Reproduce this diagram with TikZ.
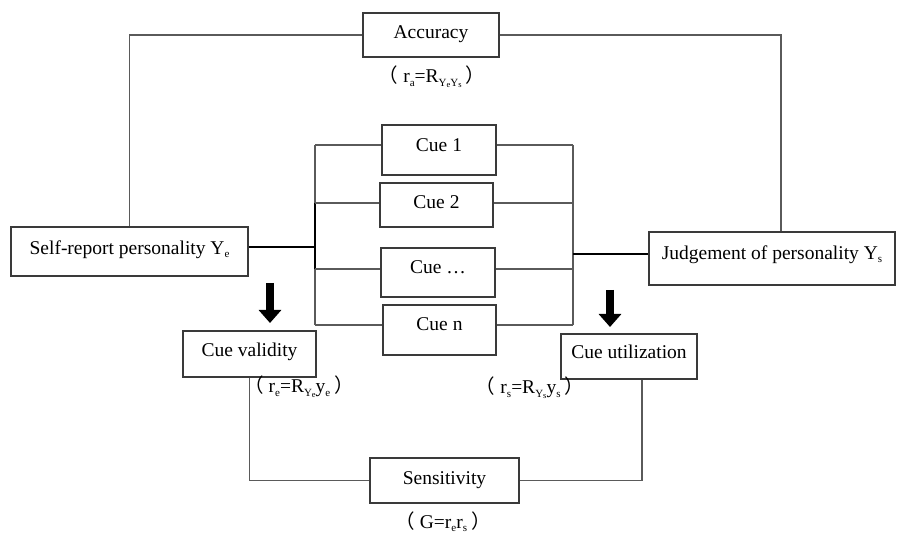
\documentclass[tikz,border=0pt]{standalone}
\usepackage{fontspec}
\setmainfont{Liberation Serif}
\newfontfamily\cjk{Noto Sans CJK SC}
\usetikzlibrary{arrows.meta}
\newcommand\lo[1]{\raisebox{-0.35ex}{\fontsize{11}{11}\selectfont #1}}
\newcommand\llo[1]{\raisebox{-0.3ex}{\fontsize{8.5}{8.5}\selectfont #1}}
\newcommand\lpar{{\cjk （}\hspace{5pt}}
\newcommand\rpar{\hspace{4pt}{\cjk ）}}
\definecolor{boxc}{HTML}{3A3A3A}
\definecolor{linec}{HTML}{5A5A5A}
\begin{document}
\begin{tikzpicture}[x=1pt,y=-1pt,
  box/.style={draw=boxc, line width=1.2pt, fill=white, text height=14pt, text depth=7pt, inner sep=0pt, font=\fontsize{19.5}{23}\selectfont},
  conn/.style={draw=linec, line width=1.1pt},
  thickconn/.style={draw=black, line width=1.8pt},
  lab/.style={inner sep=0pt, font=\fontsize{19.5}{23}\selectfont},
  bigarrow/.style={line width=7.5pt, -{Triangle[width=22pt,length=13pt]}}]
\fill[white] (0,0) rectangle (899,534);
\useasboundingbox (0,0) rectangle (899,534);

% boxes
\node[box, minimum width=136pt, minimum height=44pt] (acc) at (431,35) {Accuracy};
\node[box, minimum width=237pt, minimum height=49pt, text depth=8pt] (self) at (129.5,251.5) {Self-report personality Y\lo{e}};
\node[box, minimum width=246pt, minimum height=53pt, text depth=12pt] (judge) at (772,258.5) {Judgement of personality Y\lo{s}};
\node[box, minimum width=114pt, minimum height=50pt, text depth=11pt] (cue1) at (439,150) {Cue 1};
\node[box, minimum width=113pt, minimum height=44pt] (cue2) at (436.5,205) {Cue 2};
\node[box, minimum width=114pt, minimum height=49pt, text depth=11pt] (cue3) at (438,272.5) {Cue \dots};
\node[box, minimum width=113pt, minimum height=50pt, text depth=13pt] (cue4) at (439.5,330) {Cue n};
\node[box, minimum width=133pt, minimum height=46pt, text depth=10pt] (cuev) at (249.5,354) {Cue validity};
\node[box, minimum width=136pt, minimum height=45pt, text depth=9pt] (cueu) at (629,356.5) {Cue utilization};
\node[box, minimum width=149pt, minimum height=45pt] (sens) at (444.5,480.5) {Sensitivity};

% labels
\node[lab] (la) at (432,77) {\lpar r\lo{a}=R\lo{Y\llo{e}Y\llo{s}}\rpar};
\node[lab] (le) at (299,387) {\lpar r\lo{e}=R\lo{Y\llo{e}}y\lo{e}\rpar};
\node[lab] (ls) at (530,388) {\lpar r\lo{s}=R\lo{Y\llo{s}}y\lo{s}\rpar};
\node[lab] (lg) at (443,522) {\lpar G=r\lo{e}r\lo{s}\rpar};

% coordinates
\coordinate (jl) at (315,247);
\coordinate (jr) at (573,254);
\coordinate (L1) at (315,145);
\coordinate (L2) at (315,203);
\coordinate (L3) at (315,269);
\coordinate (L4) at (315,325);
\coordinate (R1) at (573,145);
\coordinate (R2) at (573,203);
\coordinate (R3) at (573,269);
\coordinate (R4) at (573,325);
\coordinate (a1s) at (270,283);
\coordinate (a1e) at (270,323);
\coordinate (a2s) at (610,290);
\coordinate (a2e) at (610,327);

% accuracy connectors
\draw[conn] (acc.west) -| (self.north);
\draw[conn] (acc.east) -| ([xshift=9pt]judge.north);

% bracket left
\draw[conn] (L1) -- (L4);
\draw[thickconn] (L2) -- (L3);
\draw[thickconn] (self.east |- jl) -- (jl);
\draw[conn] (L1) -- (L1 -| cue1.west);
\draw[conn] (L2) -- (L2 -| cue2.west);
\draw[conn] (L3) -- (L3 -| cue3.west);
\draw[conn] (L4) -- (L4 -| cue4.west);

% bracket right
\draw[conn] (R1) -- (R4);
\draw[conn, line width=2pt] (R2) -- (R3);
\draw[thickconn] (jr) -- (jr -| judge.west);
\draw[conn] (R1) -- (R1 -| cue1.east);
\draw[conn] (R2) -- (R2 -| cue2.east);
\draw[conn] (R3) -- (R3 -| cue3.east);
\draw[conn] (R4) -- (R4 -| cue4.east);

% sensitivity connectors
\draw[conn] (cuev.south) |- (sens.west);
\draw[conn] ([xshift=13pt]cueu.south) |- (sens.east);

% big arrows
\draw[bigarrow] (a1s) -- (a1e);
\draw[bigarrow] (a2s) -- (a2e);
\end{tikzpicture}
\end{document}
